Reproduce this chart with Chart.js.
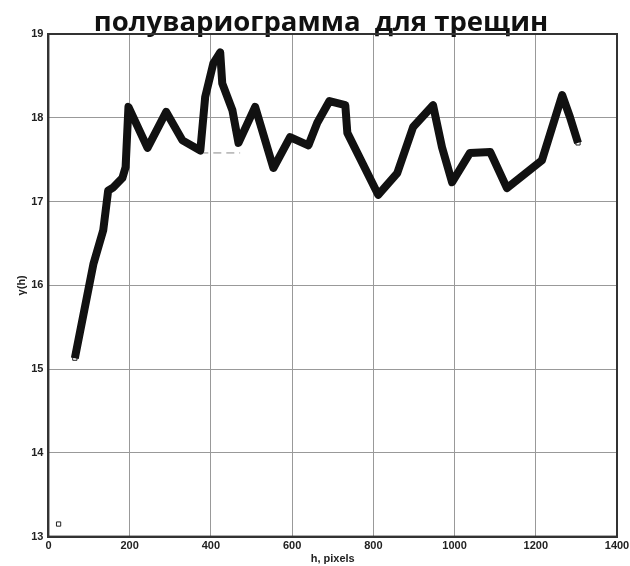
<!DOCTYPE html>
<html>
<head>
<meta charset="utf-8">
<script src="https://cdn.jsdelivr.net/npm/chart.js@4.4.1/dist/chart.umd.min.js"></script>
<style>
  html, body { margin: 0; padding: 0; background: #fff; }
  #wrap { width: 630px; height: 566px; }
</style>
</head>
<body>
<div id="wrap"><canvas id="c" width="630" height="566"></canvas></div>
<script>
// Lag distance h (pixels) and semivariance γ(h)
const lagH = [65, 111, 135, 147, 160, 182, 190, 197, 244, 290,
              330, 374, 386, 406, 423, 428, 453, 468, 509, 554,
              595, 640, 662, 692, 731, 736, 773, 812, 859, 898,
              947, 969, 994, 1038, 1088, 1129, 1215, 1265, 1284, 1304];
const gammaH = [15.13, 16.26, 16.66, 17.13, 17.17, 17.28, 17.41, 18.13, 17.64, 18.07,
                17.73, 17.61, 18.25, 18.65, 18.78, 18.41, 18.09, 17.70, 18.13, 17.40,
                17.77, 17.67, 17.94, 18.20, 18.15, 17.82, 17.46, 17.08, 17.34, 17.89,
                18.15, 17.65, 17.23, 17.58, 17.59, 17.16, 17.49, 18.27, 18.01, 17.70];
// First lag, shown as a lone marker
const firstH = [25];
const firstGamma = [13.15];
// Short dashed segment under the peak
const dashH = [374, 472];
const dashGamma = [17.58, 17.58];

const xTicks = [0, 200, 400, 600, 800, 1000, 1200, 1400];
const yTicks = [13, 14, 15, 16, 17, 18, 19];

const toPts = (xs, ys) => xs.map((x, i) => ({ x, y: ys[i] }));

// Box around the plot area
const boxPlugin = {
  id: 'box',
  afterDatasetsDraw(chart) {
    const { ctx, chartArea: a } = chart;
    ctx.save();
    ctx.strokeStyle = '#333';
    ctx.lineWidth = 2;
    ctx.strokeRect(a.left, a.top, a.right - a.left, a.bottom - a.top);
    ctx.restore();
  }
};

const tickFont = { family: 'Liberation Sans, Arial, sans-serif', size: 11, weight: 'bold' };
const plain = (v) => String(v);

new Chart(document.getElementById('c'), {
  type: 'scatter',
  data: {
    datasets: [
      {
        label: 'γ(h)',
        data: toPts(lagH, gammaH),
        showLine: true,
        borderColor: '#111',
        borderWidth: 8,
        borderJoinStyle: 'round',
        borderCapStyle: 'butt',
        pointRadius: 0,
        order: 2
      },
      {
        label: 'markers',
        data: toPts(lagH, gammaH),
        showLine: false,
        pointStyle: 'rect',
        pointRadius: 3,
        pointBackgroundColor: '#fff',
        pointBorderColor: '#222',
        pointBorderWidth: 1,
        order: 3
      },
      {
        label: 'first',
        data: toPts(firstH, firstGamma),
        showLine: false,
        pointStyle: 'rect',
        pointRadius: 3,
        pointBackgroundColor: '#fff',
        pointBorderColor: '#222',
        pointBorderWidth: 1,
        order: 1
      },
      {
        label: 'dash',
        data: toPts(dashH, dashGamma),
        showLine: true,
        borderColor: '#888',
        borderWidth: 1,
        borderDash: [8, 5],
        pointRadius: 0,
        order: 4
      }
    ]
  },
  options: {
    responsive: false,
    animation: false,
    layout: { padding: { left: 15, right: 3, top: 0, bottom: 0 } },
    plugins: {
      legend: { display: false },
      tooltip: { enabled: false },
      title: {
        display: true,
        text: 'полувариограмма  для трещин',
        color: '#111',
        font: { family: 'Open Sans, sans-serif', size: 27.5, weight: 'bold' },
        padding: { top: 7, bottom: -6 }
      }
    },
    scales: {
      x: {
        type: 'linear',
        min: 0, max: 1400,
        afterBuildTicks: (s) => { s.ticks = xTicks.map(v => ({ value: v })); },
        afterFit: (s) => { s.paddingRight = 13; },
        ticks: { color: '#222', font: tickFont, padding: 3, maxRotation: 0, callback: plain },
        grid: { color: '#999', lineWidth: 1, drawTicks: false },
        border: { display: true, color: '#333', width: 2 },
        title: { display: true, text: 'h, pixels', color: '#222', font: tickFont, padding: { top: -3, bottom: 0 } }
      },
      y: {
        type: 'linear',
        min: 13, max: 19,
        afterBuildTicks: (s) => { s.ticks = yTicks.map(v => ({ value: v })); },
        ticks: { color: '#222', font: tickFont, padding: 5, callback: plain },
        grid: { color: '#999', lineWidth: 1, drawTicks: false },
        border: { display: true, color: '#333', width: 2 },
        title: { display: true, text: 'γ(h)', color: '#222', font: tickFont, padding: { top: 0, bottom: -2 } }
      }
    }
  },
  plugins: [boxPlugin]
});
</script>
</body>
</html>
